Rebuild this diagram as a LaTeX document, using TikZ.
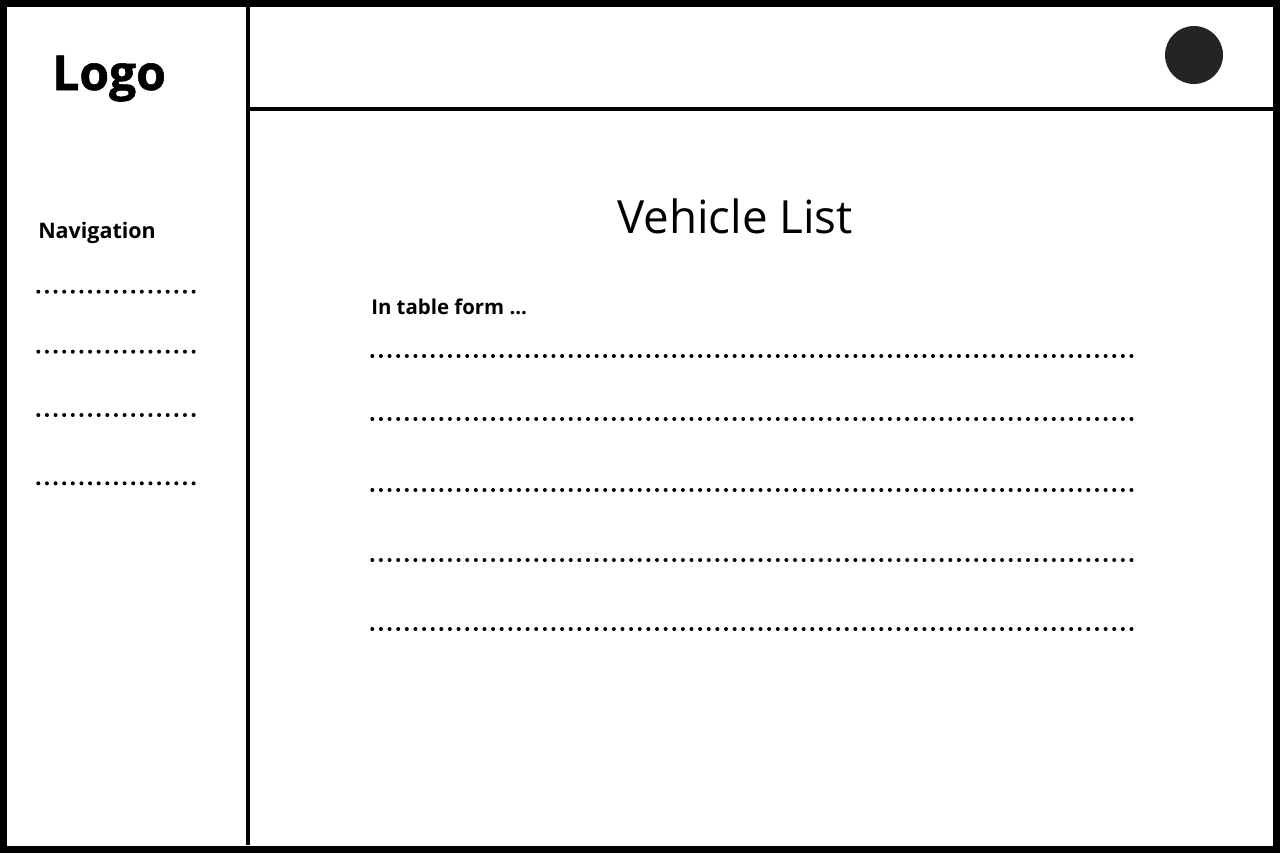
\documentclass[tikz,border=0pt]{standalone}
\usepackage{fontspec}
\setmainfont{Open Sans}
\newfontfamily\logofont[BoldFeatures={FakeBold=1.2}]{Open Sans}
\usetikzlibrary{positioning}

\tikzset{
  frameline/.style={line width=5.25pt},
  divline/.style={line width=3pt},
  dotrow/.style={line width=3pt,line cap=round,dash pattern=on 0pt off 6.47pt},
  txt/.style={inner sep=0pt,text=black}
}

\begin{document}
\begin{tikzpicture}[x=0.75pt,y=-0.75pt]
                \useasboundingbox (0,0) rectangle (1280,853);
                \fill[white] (0,0) rectangle (1280,853);

                % frame and dividers
                \draw[frameline] (3.25,3.5) rectangle (1276.5,849);
                \draw[divline] (248,7) -- (248,845);
                \draw[divline] (248,109) -- (1273,109);
                \node[circle,fill=black!86,inner sep=0pt,minimum size=43.5pt] (avatar) at (1194,55) {};

                % sidebar
                \node[txt,anchor=base west,font=\logofont\bfseries\fontsize{36}{40}\selectfont] (logo) at (52,90) {Logo};
                \node[txt,anchor=base west,font=\bfseries\fontsize{16.1}{20}\selectfont] (nav) at (38,238) {Navigation};
                \foreach \y in {291.7,351.7,415,483.3}
                    \draw[dotrow] (38.3,\y) -- (193.6,\y);

                % content
                \node[txt,anchor=base,font=\fontsize{34.3}{40}\selectfont] (title) at (735,233) {Vehicle List};
                \node[txt,anchor=base west,font=\bfseries\fontsize{15.3}{18}\selectfont] (hint) at (371,314) {In table form ...};
                \foreach \y in {356,419,490,560,629}
                    \draw[dotrow] (372.3,\y) -- (1133.6,\y);
            \end{tikzpicture}
\end{document}
